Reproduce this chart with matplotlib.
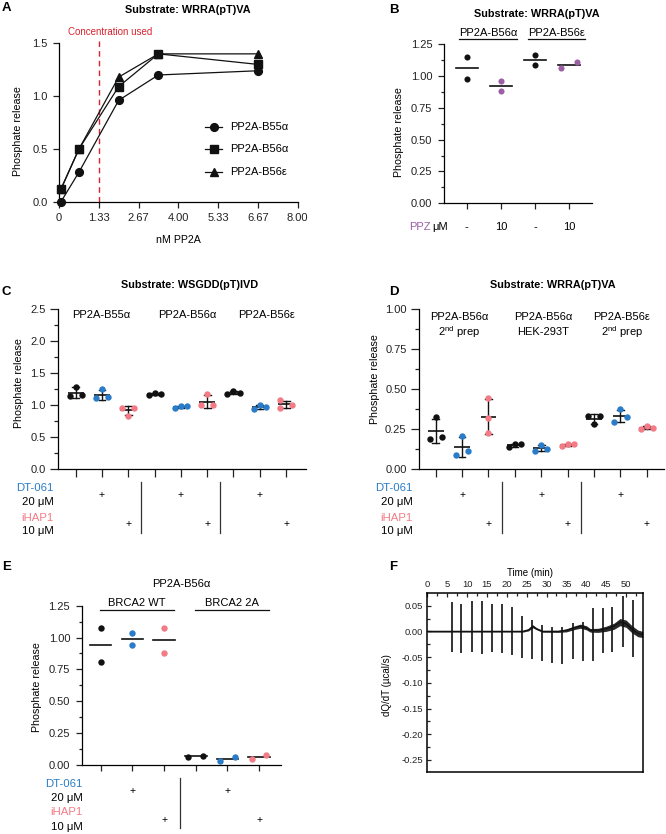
import matplotlib
matplotlib.use('Agg')
import matplotlib.pyplot as plt
from matplotlib import transforms
from matplotlib.ticker import MultipleLocator
import numpy as np

plt.rcParams['font.family'] = ['Liberation Sans', 'DejaVu Sans']
plt.rcParams['mathtext.fontset'] = 'custom'
plt.rcParams['mathtext.rm'] = 'Liberation Sans'
plt.rcParams['axes.linewidth'] = 0.9
for a in ('xtick', 'ytick'):
    plt.rcParams[a + '.major.width'] = 0.9
    plt.rcParams[a + '.minor.width'] = 0.9
    plt.rcParams[a + '.major.size'] = 4.3
    plt.rcParams[a + '.minor.size'] = 2.5
    plt.rcParams[a + '.labelsize'] = 8
    plt.rcParams[a + '.color'] = '#222222'

W, H = 666, 834
BLACK = '#111111'
BLUE = '#2a7bc8'
PINK = '#f27b86'
PURPLE = '#9b5fa3'
RED = '#d9232e'
TREAT_COLORS = [BLACK, BLUE, PINK]

# ---------------- data ----------------
# Panel A
a_conc = [0.067, 0.67, 2.0, 3.33, 6.67]
a_b55a = [0.0, 0.28, 0.96, 1.20, 1.24]
a_b56a = [0.12, 0.50, 1.09, 1.40, 1.30]
a_b56e = [0.12, 0.50, 1.18, 1.40, 1.40]
a_names = ['PP2A-B55α', 'PP2A-B56α', 'PP2A-B56ε']
a_xticks = [0, 1.33, 2.67, 4.00, 5.33, 6.67, 8.00]
a_xticklabels = ['0', '1.33', '2.67', '4.00', '5.33', '6.67', '8.00']
a_used = 1.33

# Panel B
b_groups = ['PP2A-B56α', 'PP2A-B56ε']
b_ppz = ['-', '10', '-', '10']
b_vals = [[1.145, 0.973], [0.957, 0.882], [1.163, 1.085], [1.06, 1.11]]

# Panel C
c_groups = ['PP2A-B55α', 'PP2A-B56α', 'PP2A-B56ε']
c_vals = [[1.143, 1.289, 1.154], [1.106, 1.247, 1.122], [0.96, 0.83, 0.96],
          [1.153, 1.185, 1.174], [0.96, 0.986, 0.986], [0.997, 1.169, 0.997],
          [1.174, 1.22, 1.195], [0.934, 1.00, 0.976], [1.075, 0.96, 1.0]]

# Panel D
d_groups = [('PP2A-B56α', '2$^{\\rm nd}$ prep'), ('PP2A-B56α', 'HEK-293T'),
            ('PP2A-B56ε', '2$^{\\rm nd}$ prep')]
d_vals = [[0.19, 0.325, 0.20], [0.09, 0.208, 0.115], [0.444, 0.319, 0.227],
          [0.1375, 0.156, 0.156], [0.1125, 0.15, 0.129], [0.148, 0.156, 0.156],
          [0.333, 0.281, 0.333], [0.298, 0.375, 0.327], [0.254, 0.269, 0.258]]

# Panel E
e_groups = ['BRCA2 WT', 'BRCA2 2A']
e_vals = [[1.072, 0.81], [1.038, 0.94], [1.077, 0.88],
          [0.065, 0.072], [0.034, 0.065], [0.044, 0.0785]]

# Panel F (ITC trace)
f_inj_t = [6.1, 8.6, 11.2, 13.8, 16.3, 18.8, 21.2, 23.8, 26.4, 28.9, 31.5,
           34.0, 36.6, 39.1, 41.6, 44.1, 46.6, 49.2, 51.7]
f_up = [0.058, 0.054, 0.059, 0.060, 0.054, 0.0525, 0.048, 0.030, 0.022, 0.012,
        0.009, 0.009, 0.016, 0.019, 0.045, 0.045, 0.048, 0.069, 0.061]
f_down = [-0.041, -0.043, -0.041, -0.044, -0.040, -0.043, -0.046, -0.051, -0.054,
          -0.057, -0.062, -0.064, -0.053, -0.058, -0.058, -0.043, -0.041, -0.031, -0.049]
f_base_t = [0, 24, 25.5, 26.5, 27.5, 29, 33, 35, 37, 38.5, 40, 41, 43, 45, 47,
            48.5, 50, 51.5, 53, 54.2]
f_base = [0, 0, 0.003, 0.010, 0.005, 0.0, 0.0, 0.002, 0.007, 0.010, 0.007, 0.002,
          0.002, 0.005, 0.010, 0.018, 0.015, 0.004, -0.004, -0.006]
f_noise = [0.0015, 0.0015, 0.002, 0.003, 0.002, 0.0018, 0.002, 0.003, 0.0035, 0.004,
           0.004, 0.0035, 0.004, 0.005, 0.006, 0.007, 0.007, 0.007, 0.0065, 0.006]

# ---------------- layout helpers ----------------
fig = plt.figure(figsize=(W / 100, H / 100), dpi=100)


def add_ax(x0, ytop, x1, ybot):
    return fig.add_axes([x0 / W, 1 - ybot / H, (x1 - x0) / W, (ybot - ytop) / H])


def fy(y):
    return 1 - y / H


def ftext(x, y, s, **kw):
    kw.setdefault('va', 'center')
    kw.setdefault('ha', 'center')
    fig.text(x / W, fy(y), s, **kw)


def letter(x, y, s):
    ftext(x, y, s, fontsize=9.5, fontweight='bold', ha='left')


def style_cat(ax):
    for s in ('top', 'right'):
        ax.spines[s].set_visible(False)


def dot_panel(ax, vals, offsets, half=0.3, sd=True, cap=0.13):
    for i, v in enumerate(vals):
        col = TREAT_COLORS[i % 3]
        xs = [i + o for o in offsets[i]]
        m = np.mean(v)
        ax.plot([i - half, i + half], [m, m], color=BLACK, lw=1.2, zorder=2,
                solid_capstyle='butt')
        if sd:
            s = np.std(v, ddof=1)
            ax.plot([i, i], [m - s, m + s], color=BLACK, lw=1.0, zorder=2)
            for yy in (m - s, m + s):
                ax.plot([i - cap, i + cap], [yy, yy], color=BLACK, lw=1.0, zorder=2)
        ax.plot(xs, v, 'o', ms=4.6, color=col, mec='none', zorder=3, clip_on=False)


def treat_rows(ax, xlab, ys, plus_dt, plus_ih, seps, sep_y):
    trans = transforms.blended_transform_factory(ax.transData, fig.transFigure)
    ftext(xlab, ys[0], 'DT-061', color=BLUE, ha='right', fontsize=8.2)
    ftext(xlab, ys[1], '20 μM', ha='right', fontsize=8.2)
    ftext(xlab, ys[2], 'iHAP1', color=PINK, ha='right', fontsize=8.2)
    ftext(xlab, ys[3], '10 μM', ha='right', fontsize=8.2)
    for x in plus_dt:
        ax.text(x, fy((ys[0] + ys[1]) / 2), '+', transform=trans, ha='center',
                va='center', fontsize=7.5)
    for x in plus_ih:
        ax.text(x, fy((ys[2] + ys[3]) / 2), '+', transform=trans, ha='center',
                va='center', fontsize=7.5)
    for x in seps:
        ax.plot([x, x], [fy(sep_y[0]), fy(sep_y[1])], transform=trans, color='#333333',
                lw=0.9, clip_on=False)


# ================= Panel A =================
axA = add_ax(59, 43.3, 297.7, 201.7)
style_cat(axA)
markers = ['o', 's', '^']
sizes = [5.6, 5.6, 6.2]
for vals, mk, ms in zip([a_b55a, a_b56a, a_b56e], markers, sizes):
    axA.plot(a_conc, vals, '-', marker=mk, ms=ms, color=BLACK, lw=0.9, clip_on=False,
             zorder=3)
axA.plot([a_used, a_used], [0, 1.52], color=RED, lw=1.0, dashes=(4, 3), clip_on=False)
axA.set_xlim(0, 8)
axA.set_ylim(0, 1.5)
axA.set_xticks(a_xticks)
axA.set_xticklabels(a_xticklabels)
axA.set_yticks([0, 0.5, 1.0, 1.5])
axA.set_yticklabels(['0.0', '0.5', '1.0', '1.5'])
axA.tick_params(axis='both', pad=4)
ftext(110, 32, 'Concentration used', color=RED, fontsize=7)
ftext(188, 10, 'Substrate: WRRA(pT)VA', fontsize=7.8, fontweight='bold')
ftext(18.5, 131.5, 'Phosphate release', rotation=90, fontsize=7.7)
ftext(178, 240, 'nM PP2A', fontsize=7.7)
leg_y = [127, 149, 172]
axL = fig.add_axes([0, 0, 1, 1], facecolor='none')
axL.set_axis_off()
axL.set_xlim(0, W)
axL.set_ylim(H, 0)
for y, mk, ms, name in zip(leg_y, markers, sizes, a_names):
    axL.plot([205, 222], [y, y], color=BLACK, lw=0.9)
    axL.plot([213.5], [y], marker=mk, ms=ms, color=BLACK)
    axL.text(230, y, name, fontsize=8, va='center', ha='left')
letter(2, 8, 'A')

# ================= Panel B =================
axB = add_ax(444, 44, 592, 203.3)
style_cat(axB)
b_off = [[0, 0], [0, 0], [0, 0], [-0.24, 0.24]]
for i, v in enumerate(b_vals):
    col = BLACK if i % 2 == 0 else PURPLE
    m = np.mean(v)
    axB.plot([i - 0.32, i + 0.32], [m, m], color=BLACK, lw=1.2, zorder=2)
    axB.plot([i + o for o in b_off[i]], v, 'o', ms=4.4, color=col, mec='none', zorder=3)
axB.set_xlim(-0.67, 3.67)
axB.set_ylim(0, 1.25)
axB.set_xticks(range(4))
axB.set_xticklabels([])
axB.set_yticks([0, 0.25, 0.5, 0.75, 1.0, 1.25])
axB.set_yticklabels(['0.00', '0.25', '0.50', '0.75', '1.00', '1.25'])
axB.yaxis.set_minor_locator(MultipleLocator(0.125))
axB.tick_params(axis='y', pad=4)
transB = transforms.blended_transform_factory(axB.transData, fig.transFigure)
for i, lab in enumerate(b_ppz):
    axB.text(i, fy(227), lab, transform=transB, ha='center', va='center', fontsize=8)
ftext(431, 227, 'PPZ', color=PURPLE, ha='right', fontsize=8)
ftext(432, 227, 'μM', ha='left', fontsize=8)
for g, lab in enumerate(b_groups):
    x0, x1 = 2 * g - 0.22, 2 * g + 1.47
    axB.plot([x0, x1], [fy(39.3)] * 2, transform=transB, color=BLACK, lw=0.9,
             clip_on=False)
    axB.text((x0 + x1) / 2, fy(32.5), lab, transform=transB, ha='center', va='center',
             fontsize=8)
ftext(537, 14, 'Substrate: WRRA(pT)VA', fontsize=7.8, fontweight='bold')
ftext(398.5, 132, 'Phosphate release', rotation=90, fontsize=7.7)
letter(389, 10, 'B')

# ================= Panel C =================
axC = add_ax(58.3, 309.3, 305.7, 469)
style_cat(axC)
c_off = [[-0.23, 0, 0.23]] * 8 + [[-0.23, -0.23, 0.23]]
dot_panel(axC, c_vals, c_off)
axC.set_xlim(-0.66, 8.745)
axC.set_ylim(0, 2.5)
axC.set_xticks(range(9))
axC.set_xticklabels([])
axC.set_yticks([0, 0.5, 1.0, 1.5, 2.0, 2.5])
axC.set_yticklabels(['0.0', '0.5', '1.0', '1.5', '2.0', '2.5'])
axC.yaxis.set_minor_locator(MultipleLocator(0.25))
axC.tick_params(axis='both', which='major', length=5.5)
axC.tick_params(axis='y', which='minor', length=3)
axC.tick_params(axis='y', pad=3.5)
transC = transforms.blended_transform_factory(axC.transData, fig.transFigure)
for x, lab in zip([0.96, 4.24, 7.26], c_groups):
    axC.text(x, fy(315), lab, transform=transC, ha='center', va='center', fontsize=8)
ftext(190, 285, 'Substrate: WSGDD(pT)IVD', fontsize=7.8, fontweight='bold')
ftext(19.5, 383, 'Phosphate release', rotation=90, fontsize=7.7)
treat_rows(axC, 53.3, [488.3, 502.3, 517.7, 531], [1, 4, 7], [2, 5, 8], [2.5, 5.5],
           (481.7, 532.7))
letter(2, 292, 'C')

# ================= Panel D =================
axD = add_ax(419, 309.3, 664, 469.3)
style_cat(axD)
d_off = [[-0.23, 0, 0.23]] * 9
d_off[2] = [0, 0, 0]
dot_panel(axD, d_vals, d_off)
axD.set_xlim(-0.63, 8.65)
axD.set_ylim(0, 1.0)
axD.set_xticks(range(9))
axD.set_xticklabels([])
axD.set_yticks([0, 0.25, 0.5, 0.75, 1.0])
axD.set_yticklabels(['0.00', '0.25', '0.50', '0.75', '1.00'])
axD.yaxis.set_minor_locator(MultipleLocator(0.125))
axD.tick_params(axis='both', which='major', length=5.5)
axD.tick_params(axis='y', which='minor', length=3)
axD.tick_params(axis='y', pad=3.5)
transD = transforms.blended_transform_factory(axD.transData, fig.transFigure)
for x, (l1, l2) in zip([0.88, 4.08, 7.05], d_groups):
    axD.text(x, fy(317.3), l1, transform=transD, ha='center', va='center', fontsize=8)
    axD.text(x, fy(331.7), l2, transform=transD, ha='center', va='center', fontsize=8)
ftext(553, 285, 'Substrate: WRRA(pT)VA', fontsize=7.8, fontweight='bold')
ftext(375, 379, 'Phosphate release', rotation=90, fontsize=7.7)
treat_rows(axD, 412.7, [488.3, 502.3, 517.7, 531], [1, 4, 7], [2, 5, 8], [2.5, 5.5],
           (481.7, 532.7))
letter(389, 292, 'D')

# ================= Panel E =================
axE = add_ax(81.7, 605.7, 281, 765)
style_cat(axE)
e_off = [[0, 0]] * 3 + [[-0.23, 0.23]] * 3
for i, v in enumerate(e_vals):
    col = TREAT_COLORS[i % 3]
    m = np.mean(v)
    axE.plot([i - 0.34, i + 0.34], [m, m], color=BLACK, lw=1.2, zorder=2)
    axE.plot([i + o for o in e_off[i]], v, 'o', ms=4.6, color=col, mec='none', zorder=3)
axE.set_xlim(-0.6, 5.69)
axE.set_ylim(0, 1.25)
axE.set_xticks(range(6))
axE.set_xticklabels([])
axE.set_yticks([0, 0.25, 0.5, 0.75, 1.0, 1.25])
axE.set_yticklabels(['0.00', '0.25', '0.50', '0.75', '1.00', '1.25'])
axE.yaxis.set_minor_locator(MultipleLocator(0.125))
axE.tick_params(axis='y', pad=4)
transE = transforms.blended_transform_factory(axE.transData, fig.transFigure)
for g, lab in enumerate(e_groups):
    x0, x1 = 3 * g - 0.02, 3 * g + 2.3
    axE.plot([x0, x1], [fy(610)] * 2, transform=transE, color=BLACK, lw=0.9,
             clip_on=False)
    axE.text((x0 + x1) / 2, fy(603.3), lab, transform=transE, ha='center', va='center',
             fontsize=8)
axE.text(2.55, fy(584), 'PP2A-B56α', transform=transE, ha='center', va='center',
         fontsize=8)
ftext(36.7, 686.7, 'Phosphate release', rotation=90, fontsize=7.7)
treat_rows(axE, 82.3, [784.3, 798.3, 812.3, 826.7], [1, 4], [2, 5], [2.5],
           (778, 828))
letter(2, 567, 'E')

# ================= Panel F =================
axF = add_ax(427.3, 593.3, 642.7, 772.3)
for s in axF.spines.values():
    s.set_linewidth(1.1)
axF.fill_between(f_base_t, np.array(f_base) - np.array(f_noise),
                 np.array(f_base) + np.array(f_noise), color='#2a2a2a', lw=0)
axF.plot(f_base_t, f_base, color=BLACK, lw=0.9)
axF.vlines(f_inj_t, f_down, f_up, color=BLACK, lw=1.2)
axF.set_xlim(0, 54.2)
axF.set_ylim(-0.274, 0.074)
axF.xaxis.tick_top()
axF.xaxis.set_label_position('top')
axF.set_xticks(range(0, 55, 5))
axF.xaxis.set_minor_locator(MultipleLocator(2.5))
axF.set_yticks([-0.25, -0.2, -0.15, -0.1, -0.05, 0, 0.05])
axF.set_yticklabels(['-0.25', '-0.20', '-0.15', '-0.10', '-0.05', '0.00', '0.05'])
axF.yaxis.set_minor_locator(MultipleLocator(0.025))
axF.tick_params(axis='both', which='major', direction='in', length=3, labelsize=6.8,
                pad=3)
axF.tick_params(axis='both', which='minor', direction='in', length=1.8)
ftext(530, 572.7, 'Time (min)', fontsize=7)
ftext(386.7, 685, 'dQ/dT (µcal/s)', rotation=90, fontsize=7)
letter(389, 567, 'F')

fig.savefig('out.png', dpi=100)
